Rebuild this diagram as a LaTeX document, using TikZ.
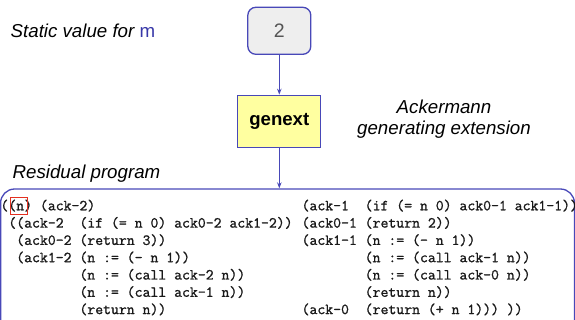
\documentclass[tikz,border=0pt]{standalone}
\usepackage{fontspec}
\setmainfont{Liberation Sans}
\newfontfamily\codefont{Latin Modern Mono}[FakeBold=1.2, WordSpace={1,0,0}, HyphenChar=None]
\usetikzlibrary{arrows.meta}

\definecolor{frameblue}{RGB}{72,72,184}
\definecolor{valblue}{RGB}{56,56,168}
\definecolor{boxgray}{RGB}{238,238,238}
\definecolor{digitgray}{RGB}{85,85,85}
\definecolor{genyellow}{RGB}{255,255,160}
\definecolor{markred}{RGB}{228,48,32}
\definecolor{codeink}{RGB}{25,25,25}

% one line of program text
\newcommand\codeline[1]{\hbox{#1}}

\begin{document}
\begin{tikzpicture}[x=1pt,y=-1pt,
  caption/.style={font=\fontsize{18.7}{21}\selectfont\itshape, inner sep=0pt},
  flow/.style={draw=frameblue, line width=1.1pt, -{Stealth[length=6pt,width=4.5pt]}},
  code/.style={font=\fontsize{15.33}{17.3}\selectfont\codefont, text=codeink,
    inner sep=0pt, anchor=base west},
  boxline/.style={draw=frameblue, line width=1.3pt}
]
\useasboundingbox (0,0) rectangle (575,320);
\clip (0,0) rectangle (575,320);

% static input value
\node[boxline, fill=boxgray, rounded corners=8pt, minimum width=63pt,
  minimum height=47pt, font=\fontsize{19.5}{20}\selectfont, text=digitgray]
  (val) at (279.3,30.8) {2};

% generating extension
\node[boxline, fill=genyellow, minimum width=83pt, minimum height=52pt,
  font=\fontsize{18.6}{20}\selectfont\bfseries]
  (gen) at (279.3,121.3) {genext};

% frame round the residual program
\node[boxline, rounded corners=14pt, minimum width=573.8pt, minimum height=151pt,
  inner sep=0pt] (residual) at (287.5,264.5) {};

\draw[flow] (val.south) -- (gen.north);
\draw[flow] (gen.south) -- (gen.south |- residual.north);

% captions
\node[caption, anchor=base west] (static) at (10.5,37.3)
  {Static value for \textcolor{valblue}{\upshape m}};
\node[caption, anchor=base] (ackcap) at (444,114)
  {\vtop{\halign{\hfil#\hfil\cr Ackermann\cr generating extension\cr}}};
\node[caption, anchor=base west] (rescap) at (12.5,178.5) {Residual program};

% residual program, two columns
\node[code] (leftcol) at (0.3,210.3) {\vtop{%
  \codeline{((n) (ack-2)}
  \codeline{~((ack-2~~(if (= n 0) ack0-2 ack1-2))}
  \codeline{~~(ack0-2 (return 3))}
  \codeline{~~(ack1-2 (n := (- n 1))}
  \codeline{~~~~~~~~~~(n := (call ack-2 n))}
  \codeline{~~~~~~~~~~(n := (call ack-1 n))}
  \codeline{~~~~~~~~~~(return n))}}};
\node[code] (rightcol) at (301.4,210.3) {\vtop{%
  \codeline{(ack-1~~(if (= n 0) ack0-1 ack1-1))}
  \codeline{(ack0-1 (return 2))}
  \codeline{(ack1-1 (n := (- n 1))}
  \codeline{~~~~~~~~(n := (call ack-1 n))}
  \codeline{~~~~~~~~(n := (call ack-0 n))}
  \codeline{~~~~~~~~(return n))}
  \codeline{(ack-0~~(return (+ n 1))) ))}}};

% highlight on the parameter list
\node[draw=markred, line width=1.1pt, inner sep=0pt, minimum width=17.7pt,
  minimum height=17.3pt] (mark) at (18.9,206.3) {};
\end{tikzpicture}
\end{document}
